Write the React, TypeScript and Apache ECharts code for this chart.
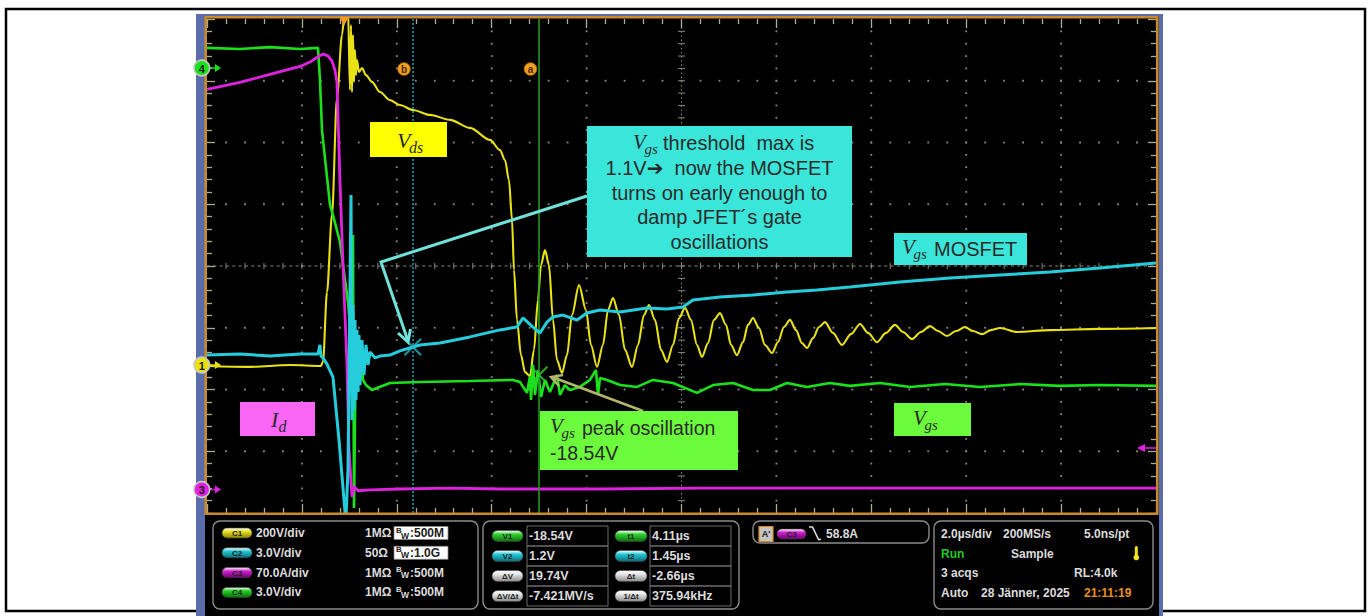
import React, { useEffect, useRef } from "react";
import * as echarts from "echarts";

// ---- Acquisition settings --------------------------------------------------
const US_PER_DIV = 2.0; // horizontal scale, µs/div
const H_DIVS = 10;
const V_DIVS = 8;
const T_LEFT = -2.887; // time at the left graticule edge, µs (trigger = 0)

// Vertical setup per channel: scale per division and the value at screen centre
const ch1 = { perDiv: 200, centre: 320.65 }; // V   (Vds)
const ch2 = { perDiv: 3.0, centre: 5.135 }; // V   (Vgs MOSFET)
const ch3 = { perDiv: 70.0, centre: 252.8 }; // A   (Id)
const ch4 = { perDiv: 3.0, centre: -13.245 }; // V  (Vgs JFET)

// Cursor readouts
const cursorT1 = 4.11; // µs
const cursorT2 = 1.45; // µs
const cursorV1 = -18.54; // V on C4
const cursorV2 = 1.2; // V on C2
const triggerLevelC3 = 58.8; // A

// ---- Waveforms: [time µs, value] ------------------------------------------
const vdsTrace: [number, number][] = [
  [-2.887, -3], [-1.981, -6], [-1.138, 0], [-0.485, -3], [-0.443, 10],
  [-0.358, 236], [-0.253, 486], [-0.148, 865], [-0.042, 1069], [0.021, 1156],
  [0.084, 1156], [0.126, 891], [0.148, 1101], [0.169, 884], [0.19, 1069],
  [0.211, 917], [0.232, 1020], [0.253, 939], [0.274, 988], [0.316, 949],
  [0.379, 962], [0.464, 939], [0.59, 917], [0.759, 884], [0.969, 858],
  [1.18, 842], [1.454, 826], [1.812, 810], [2.234, 794], [2.655, 768],
  [3.077, 729], [3.288, 696], [3.393, 664], [3.477, 599], [3.541, 470],
  [3.583, 308], [3.646, 146], [3.73, 32], [3.815, -23], [3.92, -36],
  [4.004, 49], [4.088, 211], [4.152, 324], [4.236, 372], [4.32, 324],
  [4.405, 146], [4.489, 16], [4.594, -26], [4.7, 32], [4.805, 162],
  [4.953, 259], [5.1, 178], [5.205, 65], [5.332, -6], [5.458, 65],
  [5.564, 178], [5.669, 217], [5.796, 162], [5.922, 49], [6.07, -6],
  [6.196, 65], [6.322, 162], [6.428, 194], [6.554, 146], [6.681, 49],
  [6.807, 10], [6.934, 65], [7.06, 152], [7.187, 185], [7.313, 146],
  [7.439, 65], [7.545, 26], [7.671, 71], [7.798, 146], [7.924, 168],
  [8.051, 130], [8.156, 65], [8.282, 32], [8.409, 74], [8.514, 130],
  [8.62, 152], [8.746, 120], [8.873, 65], [9.02, 39], [9.146, 74],
  [9.273, 123], [9.399, 146], [9.526, 113], [9.652, 71], [9.758, 55],
  [9.884, 87], [10.011, 123], [10.137, 139], [10.305, 104], [10.495, 65],
  [10.685, 100], [10.875, 133], [11.043, 104], [11.233, 74], [11.423, 104],
  [11.612, 130], [11.781, 107], [11.971, 84], [12.16, 107], [12.35, 126],
  [12.518, 110], [12.708, 94], [12.898, 110], [13.088, 123], [13.256, 110],
  [13.446, 100], [13.635, 113], [13.825, 120], [14.183, 107], [14.879, 113],
  [15.933, 117], [17.113, 120],
];

const vgsMosfetTrace: [number, number][] = [
  [-2.887, 0.81], [-2.192, 0.86], [-1.56, 0.76], [-0.927, 0.86], [-0.548, 0.86],
  [-0.506, 1.3], [-0.485, 0.76], [-0.443, 0.67], [-0.358, 0.37], [-0.232, -0.26],
  [-0.105, -3.32], [0.021, -6.8], [0.042, -7.1], [0.084, -4.78], [0.148, 8.58],
  [0.169, -2.35], [0.19, 3.24], [0.211, -1.86], [0.232, 2.51], [0.253, -1.37],
  [0.274, 2.03], [0.295, -0.99], [0.316, 1.78], [0.337, -0.65], [0.379, 1.54],
  [0.421, -0.16], [0.464, 1.3], [0.506, 0.33], [0.548, 0.96], [0.653, 0.67],
  [0.759, 0.76], [0.969, 0.81], [1.18, 1.01], [1.454, 1.2], [1.602, 1.3],
  [2.023, 1.39], [2.655, 1.69], [3.288, 2.03], [3.646, 2.17], [3.772, 2.61],
  [3.983, 2.17], [4.131, 1.88], [4.278, 2.41], [4.405, 2.66], [4.615, 2.75],
  [4.91, 2.51], [5.121, 2.85], [5.395, 3.0], [5.817, 2.9], [6.386, 3.09],
  [6.807, 3.05], [7.144, 3.14], [7.355, 3.48], [7.924, 3.63], [8.62, 3.73],
  [9.336, 3.87], [9.968, 3.97], [10.664, 4.11], [11.718, 4.36], [12.771, 4.55],
  [13.825, 4.7], [14.879, 4.84], [15.933, 5.04], [17.113, 5.28],
];

const idTrace: [number, number][] = [
  [-2.887, 453], [-2.192, 461], [-1.56, 470], [-0.927, 479], [-0.717, 484],
  [-0.548, 490], [-0.443, 493], [-0.337, 491], [-0.253, 485], [-0.19, 475],
  [-0.148, 461], [-0.084, 348], [-0.021, 254], [0.063, 141], [0.105, 46],
  [0.148, 8], [0.169, -9], [0.211, 3], [0.295, -2], [0.548, -1],
  [1.18, 0], [2.234, 1], [3.288, 0], [5.395, 0], [7.503, 1],
  [9.61, 1], [11.718, 1], [13.825, 1], [17.113, 1],
];

const vgsJfetTrace: [number, number][] = [
  [-2.887, -2.65], [-2.192, -2.7], [-1.56, -2.61], [-0.927, -2.7], [-0.548, -2.65],
  [-0.506, -4.21], [-0.464, -6.64], [-0.295, -10.28], [-0.232, -10.77], [-0.084, -12.08],
  [0.084, -15.0], [0.169, -17.23], [0.19, -11.74], [0.211, -25.0], [0.253, -16.35],
  [0.274, -19.27], [0.295, -17.08], [0.316, -19.03], [0.337, -17.33], [0.358, -18.78],
  [0.379, -17.81], [0.4, -18.78], [0.464, -19.03], [0.59, -19.27], [0.695, -19.17],
  [0.969, -18.93], [1.602, -18.88], [2.655, -18.83], [3.562, -18.78], [3.709, -18.88],
  [3.857, -19.41], [3.92, -18.59], [3.941, -19.75], [3.983, -18.05], [4.025, -19.51],
  [4.088, -18.3], [4.152, -19.61], [4.236, -18.78], [4.341, -19.37], [4.489, -18.54],
  [4.552, -19.51], [4.657, -19.03], [4.763, -19.27], [4.973, -19.12], [5.184, -18.78],
  [5.311, -18.3], [5.353, -19.51], [5.395, -18.69], [5.543, -18.78], [5.817, -19.03],
  [6.175, -19.12], [6.512, -18.78], [6.934, -18.93], [7.439, -19.41], [7.777, -19.03],
  [8.198, -18.93], [8.62, -19.27], [8.978, -19.27], [9.336, -18.93], [9.758, -19.12],
  [10.242, -18.93], [10.664, -19.07], [11.296, -18.93], [11.929, -19.12], [12.666, -18.98],
  [13.404, -19.12], [14.247, -18.98], [15.089, -19.07], [15.933, -19.03], [17.113, -19.07],
];

// ---- Screen layout ---------------------------------------------------------
const GX = 207;
const GY = 19;
const GW = 949;
const GH = 494;

const YELLOW = "#e8e214";
const CYAN = "#24cddc";
const MAGENTA = "#e022e0";
const GREEN = "#1ae21a";
const TICK = "#b0a993";
const PANEL_TXT = "#dcdcdc";

const SANS = '"Liberation Sans", Arial, "DejaVu Sans", sans-serif';
const SERIF = '"Liberation Serif", "DejaVu Serif", serif';

const chanAxis = (c: { perDiv: number; centre: number }) => ({
  type: "value",
  show: false,
  min: c.centre - (V_DIVS / 2) * c.perDiv,
  max: c.centre + (V_DIVS / 2) * c.perDiv,
});

// graticule edge axes (ticks only)
const divAxis = (position: string, max: number, tickLen: number) => ({
  type: "value",
  min: 0,
  max,
  interval: 1,
  position,
  axisLine: { show: false, onZero: false },
  axisLabel: { show: false },
  axisTick: { show: true, inside: true, length: tickLen, lineStyle: { color: TICK, width: 1.3 } },
  minorTick: { show: true, splitNumber: 5, length: 5, lineStyle: { color: TICK, width: 1.3 } },
  splitLine: { show: false },
  minorSplitLine: { show: false },
});

const X_MARK =
  "path://M0,0.8L0.8,0L5,4.2L9.2,0L10,0.8L5.8,5L10,9.2L9.2,10L5,5.8L0.8,10L0,9.2L4.2,5Z";

// ---- Graphic helpers -------------------------------------------------------
const rect = (x: number, y: number, w: number, h: number, style: any, z = 20, r = 0) => ({
  type: "rect",
  silent: true,
  z,
  shape: { x, y, width: w, height: h, r },
  style,
});
const line = (x1: number, y1: number, x2: number, y2: number, style: any, z = 20) => ({
  type: "line",
  silent: true,
  z,
  shape: { x1, y1, x2, y2 },
  style,
});
const text = (
  x: number,
  y: number,
  s: string,
  font: string,
  fill = PANEL_TXT,
  align = "left",
  z = 40
) => ({
  type: "text",
  silent: true,
  z,
  x,
  y,
  style: { text: s, font, fill, textAlign: align, textVerticalAlign: "middle" },
});
const poly = (points: number[][], style: any, z = 30, closed = false) => ({
  type: closed ? "polygon" : "polyline",
  silent: true,
  z,
  shape: { points },
  style,
});
const circle = (cx: number, cy: number, r: number, style: any, z = 30) => ({
  type: "circle",
  silent: true,
  z,
  shape: { cx, cy, r },
  style,
});
const pill = (x: number, y: number, w: number, h: number, color: string, dark: string, label: string) => [
  rect(
    x,
    y,
    w,
    h,
    {
      fill: new echarts.graphic.LinearGradient(0, 0, 0, 1, [
        { offset: 0, color: "#ffffff" },
        { offset: 0.35, color },
        { offset: 1, color: dark },
      ]),
      stroke: "#444",
      lineWidth: 0.6,
    },
    35,
    h / 2
  ),
  text(x + w / 2, y + h / 2 + 0.5, label, `bold 8px ${SANS}`, "#222", "center", 36),
];
const mathSym = (x: number, y: number, base: string, sub: string, size: number, adv: number) => [
  text(x, y, base, `italic ${size}px ${SERIF}`, "#2a2a2a", "left", 45),
  text(x + adv, y + size * 0.33, sub, `italic ${Math.round(size * 0.72)}px ${SERIF}`, "#2a2a2a", "left", 45),
];

function buildGraphics() {
  const g: any[] = [];
  // page frame and instrument bezel
  g.push(rect(6, 9, 1359, 602, { fill: "none", stroke: "#000", lineWidth: 2.5 }, -30));
  g.push(rect(196, 14, 967, 602, { fill: "#5b6caa" }, -29));
  g.push(rect(205, 16, 954, 600, { fill: "#000" }, -28));
  g.push(rect(205.7, 17.3, 951.6, 496.4, { fill: "none", stroke: "#c98a2a", lineWidth: 2.6 }, 25));

  // graticule dots along the major division lines
  const dot = { fill: "#8a8a8a" };
  for (let i = 1; i < H_DIVS; i++) {
    if (i === H_DIVS / 2) continue;
    const x = GX + (i * GW) / H_DIVS;
    for (let k = 1; k < V_DIVS * 5; k++) {
      const y = GY + (k * GH) / (V_DIVS * 5);
      g.push(rect(x - 0.9, y - 0.9, 1.8, 1.8, dot, -6));
    }
  }
  for (let j = 1; j < V_DIVS; j++) {
    if (j === V_DIVS / 2) continue;
    const y = GY + (j * GH) / V_DIVS;
    for (let k = 1; k < H_DIVS * 5; k++) {
      const x = GX + (k * GW) / (H_DIVS * 5);
      g.push(rect(x - 0.9, y - 0.9, 1.8, 1.8, dot, -6));
    }
  }

  // graticule centre cross
  const cx = GX + GW / 2;
  const cy = GY + GH / 2;
  const cc = { stroke: "#8a8676", lineWidth: 1 };
  g.push(line(GX, cy, GX + GW, cy, { ...cc, lineDash: [3, 3.33] }, -5));
  g.push(line(cx, GY, cx, GY + GH, { ...cc, lineDash: [1.5, 2.62] }, -5));
  for (let k = 1; k < H_DIVS * 5; k++) {
    const x = GX + (k * GW) / (H_DIVS * 5);
    g.push(line(x, cy - 3, x, cy + 3, cc, -5));
  }
  for (let k = 1; k < V_DIVS * 5; k++) {
    const y = GY + (k * GH) / (V_DIVS * 5);
    g.push(line(cx - 3.5, y, cx + 3.5, y, cc, -5));
  }

  // trigger position marker and cursor tags
  g.push(poly([[339.5, 17], [348.5, 17], [344, 26]], { fill: "#f29a22" }, 30, true));
  for (const [x, s] of [[404, "b"], [530.5, "a"]] as [number, string][]) {
    g.push(circle(x, 69, 6.3, { fill: "#f0a020", stroke: "#b06a00", lineWidth: 0.8 }));
    g.push(text(x, 69, s, `bold 10px ${SANS}`, "#4a2800", "center", 31));
  }

  // channel ground markers
  const markers: [string, number, string][] = [
    ["4", 68, GREEN],
    ["1", 365, YELLOW],
    ["3", 489.5, MAGENTA],
  ];
  for (const [s, y, c] of markers) {
    g.push(line(208, y, 216, y, { stroke: c, lineWidth: 1.5 }, 30));
    g.push(poly([[215, y - 4], [221, y], [215, y + 4]], { fill: c }, 30, true));
    g.push(circle(201.8, y, 7.8, { fill: c, stroke: "#c8c8c8", lineWidth: 1.5 }, 31));
    g.push(text(201.8, y + 0.5, s, `bold 11px ${SANS}`, "#1a1a1a", "center", 32));
  }
  // C3 trigger level arrow on the right edge
  g.push(line(1145, 448, 1156, 448, { stroke: MAGENTA, lineWidth: 1.5 }, 30));
  g.push(poly([[1137, 448], [1145, 444], [1145, 452]], { fill: MAGENTA }, 30, true));

  // ---- annotations ----
  const dark = "#2a2a2a";
  const annoFont = `20px ${SANS}`;
  // Vds
  g.push(rect(370, 122, 77, 35, { fill: "#ffff00" }, 44));
  g.push(...mathSym(397, 140, "V", "ds", 22, 12));
  // Id
  g.push(rect(240, 402, 75, 34, { fill: "#f966f6" }, 44));
  g.push(...mathSym(271, 419, "I", "d", 22, 7.5));
  // threshold note
  g.push(rect(587, 126, 265, 131, { fill: "#3ae6da" }, 44));
  g.push(...mathSym(633, 142, "V", "gs", 21, 11.5));
  g.push(text(663, 143, "threshold  max is", annoFont, dark, "left", 45));
  const noteLines = ["1.1V\u2794  now the MOSFET", "turns on early enough to", "damp JFET\u00b4s gate", "oscillations"];
  noteLines.forEach((s, i) => g.push(text(719.5, 168 + i * 24.7, s, annoFont, dark, "center", 45)));
  // Vgs MOSFET tag
  g.push(rect(894, 233, 133, 32, { fill: "#3ae6da" }, 44));
  g.push(...mathSym(902, 247, "V", "gs", 21, 11.5));
  g.push(text(934, 249, "MOSFET", annoFont, dark, "left", 45));
  // Vgs peak note
  g.push(rect(540, 411, 198, 59, { fill: "#6cfa3c" }, 44));
  g.push(...mathSym(550, 426, "V", "gs", 21, 11.5));
  g.push(text(582, 428, "peak oscillation", `19.5px ${SANS}`, dark, "left", 45));
  g.push(text(550, 453, `${cursorV1.toFixed(2)}V`, `19.5px ${SANS}`, dark, "left", 45));
  // Vgs JFET tag
  g.push(rect(894, 403, 77, 33, { fill: "#6cfa3c" }, 44));
  g.push(...mathSym(913, 418, "V", "gs", 21, 11.5));

  // leader arrows
  const cyanArrow = { stroke: "#6fe3da", lineWidth: 3, fill: "none", lineJoin: "miter" };
  g.push(poly([[587, 196], [381, 262], [408, 341]], cyanArrow, 43));
  g.push(poly([[398, 333], [408, 342], [410.5, 329]], cyanArrow, 43));
  const oliveArrow = { stroke: "#b4b46c", lineWidth: 2.5, fill: "none" };
  g.push(poly([[643, 411], [552, 377]], oliveArrow, 43));
  g.push(poly([[559, 386], [551, 377], [563, 375]], oliveArrow, 43));

  // ---- status panel ----
  const box = { fill: "#000", stroke: "#8c8c8c", lineWidth: 1.4 };
  g.push(rect(213, 521, 265, 88, box, 30, 7));
  g.push(rect(483, 521, 256, 88, box, 30, 7));
  g.push(rect(753, 521, 176, 22, box, 30, 7));
  g.push(rect(934, 521, 219, 88, box, 30, 7));

  const pf = `bold 12px ${SANS}`;
  const channelRows = [
    { tag: "C1", scale: `${ch1.perDiv}V/div`, term: "1M\u03a9", bw: ":500M", boxed: true, c: "#e8e020", d: "#8a8400" },
    { tag: "C2", scale: `${ch2.perDiv.toFixed(1)}V/div`, term: "50\u03a9", bw: ":1.0G", boxed: true, c: "#24c8d8", d: "#0a6a78" },
    { tag: "C3", scale: `${ch3.perDiv.toFixed(1)}A/div`, term: "1M\u03a9", bw: ":500M", boxed: false, c: "#d020d0", d: "#700070" },
    { tag: "C4", scale: `${ch4.perDiv.toFixed(1)}V/div`, term: "1M\u03a9", bw: ":500M", boxed: false, c: "#22d022", d: "#0a700a" },
  ];
  channelRows.forEach((r, i) => {
    const y = 533 + i * 19.8;
    g.push(...pill(222, y - 5, 30, 10, r.c, r.d, r.tag));
    g.push(text(256, y, r.scale, pf));
    g.push(text(365, y, r.term, pf));
    const ink = r.boxed ? "#222" : PANEL_TXT;
    if (r.boxed) g.push(rect(394, y - 6.5, 54, 13, { fill: "#fff", stroke: "#888", lineWidth: 0.8 }, 35));
    g.push(text(396, y - 3, "B", `bold 8px ${SANS}`, ink, "left", 41));
    g.push(text(401, y + 2.5, "W", `bold 8.5px ${SANS}`, ink, "left", 41));
    g.push(text(410, y, r.bw, pf, ink, "left", 41));
  });

  // cursor readout table
  const dV = cursorV2 - cursorV1;
  const dT = cursorT2 - cursorT1;
  const readRows = [
    ["V1", `${cursorV1.toFixed(2)}V`, "t1", `${cursorT1.toFixed(2)}\u00b5s`, "#30d030", "#0a700a"],
    ["V2", `${cursorV2.toFixed(1)}V`, "t2", `${cursorT2.toFixed(2)}\u00b5s`, "#24c8d8", "#0a6a78"],
    ["\u0394V", `${dV.toFixed(2)}V`, "\u0394t", `${dT.toFixed(2)}\u00b5s`, "#e4e4e4", "#8a8a8a"],
    ["\u0394V/\u0394t", `${(dV / dT).toFixed(3)}MV/s`, "1/\u0394t", `${(1000 / Math.abs(dT)).toFixed(2)}kHz`, "#e4e4e4", "#8a8a8a"],
  ];
  readRows.forEach((r, i) => {
    const top = 526 + i * 20;
    const y = top + 10;
    const cell = { fill: "none", stroke: "#6c6c6c", lineWidth: 1 };
    g.push(rect(527, top, 81, 20, cell, 33));
    g.push(rect(650, top, 81, 20, cell, 33));
    g.push(...pill(492, y - 5.5, 31, 11, r[4], r[5], r[0]));
    g.push(...pill(615, y - 5.5, 32, 11, i < 2 ? r[4] : "#e4e4e4", i < 2 ? r[5] : "#8a8a8a", r[2]));
    g.push(text(529, y, r[1], `bold 12.5px ${SANS}`));
    g.push(text(652, y, r[3], `bold 12.5px ${SANS}`));
  });

  // trigger readout
  g.push(rect(759, 526.5, 14, 15, { fill: "#c4c4c4", stroke: "#e08a20", lineWidth: 1.2 }, 35));
  g.push(text(766, 534, "A'", `bold 9px ${SANS}`, "#222", "center", 36));
  g.push(...pill(777, 529, 29, 10, "#d020d0", "#700070", "C3"));
  g.push(poly([[809, 527], [812.5, 527], [818.5, 539.5], [821, 539.5]], { stroke: PANEL_TXT, lineWidth: 1.6, fill: "none" }, 36));
  g.push(text(826, 533.5, `${triggerLevelC3.toFixed(1)}A`, pf));

  // timebase / acquisition readout
  g.push(text(941, 534, `${US_PER_DIV.toFixed(1)}\u00b5s/div`, pf));
  g.push(text(1003, 534, "200MS/s", pf));
  g.push(text(1084, 534, "5.0ns/pt", pf));
  g.push(text(941, 553.5, "Run", pf, "#22c822"));
  g.push(text(1011, 553.5, "Sample", pf));
  g.push(rect(1134.8, 546, 3, 10, { fill: "#f2e21e" }, 36, 1.5));
  g.push(circle(1136.3, 557.5, 2.8, { fill: "#f2e21e" }, 36));
  g.push(text(941, 573, "3 acqs", pf));
  g.push(text(1074, 573, "RL:4.0k", pf));
  g.push(text(941, 593, "Auto", pf));
  g.push(text(981, 593, "28 J\u00e4nner, 2025", pf));
  g.push(text(1084, 593, "21:11:19", pf, "#e8901e"));
  return g;
}

function buildOption() {
  return {
    animation: false,
    backgroundColor: "#ffffff",
    grid: { left: GX, top: GY, width: GW, height: GH, show: false, containLabel: false, outerBoundsMode: "none" },
    xAxis: [
      divAxis("bottom", H_DIVS, 9),
      divAxis("top", H_DIVS, 9),
      { type: "value", show: false, min: T_LEFT, max: T_LEFT + H_DIVS * US_PER_DIV },
    ],
    yAxis: [
      divAxis("left", V_DIVS, 8),
      divAxis("right", V_DIVS, 8),
      chanAxis(ch1),
      chanAxis(ch2),
      chanAxis(ch3),
      chanAxis(ch4),
    ],
    series: [
      {
        name: "Vds",
        type: "line",
        xAxisIndex: 2,
        yAxisIndex: 2,
        data: vdsTrace,
        showSymbol: false,
        symbol: "none",
        smooth: 0.3,
        smoothMonotone: "x",
        silent: true,
        z: 2,
        lineStyle: { color: YELLOW, width: 2.1 },
      },
      {
        name: "Vgs JFET",
        type: "line",
        xAxisIndex: 2,
        yAxisIndex: 5,
        data: vgsJfetTrace,
        showSymbol: false,
        symbol: "none",
        silent: true,
        z: 3,
        lineStyle: { color: GREEN, width: 2.6 },
        markLine: {
          silent: true,
          symbol: ["none", "none"],
          label: { show: false },
          lineStyle: { color: "#1d9a1d", width: 1.6, type: "solid" },
          data: [{ xAxis: cursorT1 }],
        },
      },
      {
        name: "Id",
        type: "line",
        xAxisIndex: 2,
        yAxisIndex: 4,
        data: idTrace,
        showSymbol: false,
        symbol: "none",
        silent: true,
        z: 4,
        lineStyle: { color: MAGENTA, width: 2.8 },
      },
      {
        name: "Vgs MOSFET",
        type: "line",
        xAxisIndex: 2,
        yAxisIndex: 3,
        data: vgsMosfetTrace,
        showSymbol: false,
        symbol: "none",
        silent: true,
        z: 5,
        lineStyle: { color: CYAN, width: 3 },
        markLine: {
          silent: true,
          symbol: ["none", "none"],
          label: { show: false },
          lineStyle: { color: "#1a9aaa", width: 1.6, type: [2, 2] },
          data: [{ xAxis: cursorT2 }],
        },
      },
      {
        name: "V1",
        type: "scatter",
        xAxisIndex: 2,
        yAxisIndex: 5,
        data: [[cursorT1, cursorV1]],
        symbol: X_MARK,
        symbolSize: 18,
        silent: true,
        z: 8,
        itemStyle: { color: "#2ed22e" },
      },
      {
        name: "V2",
        type: "scatter",
        xAxisIndex: 2,
        yAxisIndex: 3,
        data: [[cursorT2, cursorV2]],
        symbol: X_MARK,
        symbolSize: 18,
        silent: true,
        z: 8,
        itemStyle: { color: "#2ab8c8" },
      },
    ],
    graphic: { elements: buildGraphics() },
  };
}

export default function App() {
  const ref = useRef<HTMLDivElement>(null);
  useEffect(() => {
    if (!ref.current) return;
    const chart = echarts.init(ref.current, undefined, { renderer: "svg" });
    chart.setOption(buildOption() as any);
    return () => chart.dispose();
  }, []);
  return (
    <div
      ref={ref}
      style={{ position: "fixed", left: 0, top: 0, width: 1371, height: 616 }}
    />
  );
}
